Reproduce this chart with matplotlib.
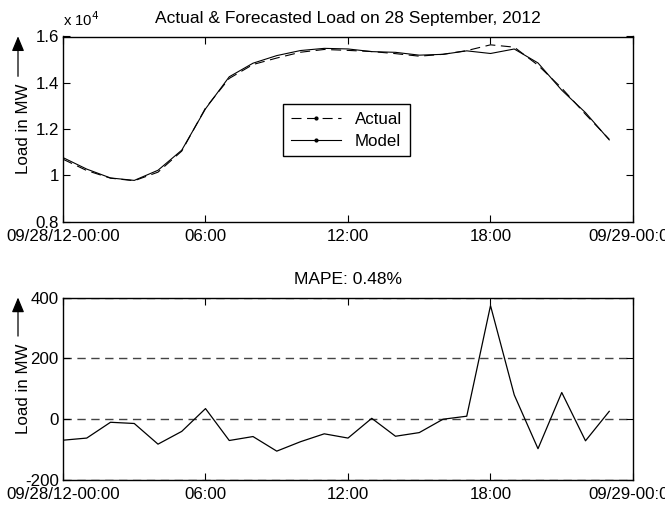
import matplotlib
matplotlib.use("Agg")
import matplotlib.pyplot as plt
from matplotlib.lines import Line2D
from matplotlib.patches import FancyArrowPatch

plt.rcParams['font.family'] = ['Liberation Sans', 'DejaVu Sans']

# ---- data ----
hours = list(range(24))
actual = [10700, 10210, 9880, 9770, 10140, 11050, 12910, 14190, 14790, 15070, 15320, 15440,
          15400, 15350, 15260, 15150, 15230, 15390, 15640, 15540, 14760, 13770, 12640, 11560]
model = [10769, 10272, 9890, 9784, 10222, 11090, 12875, 14260, 14847, 15175, 15394, 15488,
         15462, 15347, 15316, 15194, 15230, 15380, 15266, 15460, 14857, 13682, 12711, 11534]
error = [-69, -62, -10, -14, -82, -40, 35, -70, -57, -105, -74, -48,
         -62, 3, -56, -44, 0, 10, 374, 80, -97, 88, -71, 26]
xtick_pos = [0, 6, 12, 18, 24]
xtick_labels = ['09/28/12-00:00', '06:00', '12:00', '18:00', '09/29-00:00']
top_yticks = [8000, 10000, 12000, 14000, 16000]
top_ylabels = ['0.8', '1', '1.2', '1.4', '1.6']
bot_yticks = [-200, 0, 200, 400]
bot_ylabels = ['-200', '0', '200', '400']
title_top = 'Actual & Forecasted Load on 28 September, 2012'
title_bot = 'MAPE: 0.48%'

W, H = 665, 508
fig = plt.figure(figsize=(W / 100, H / 100), dpi=100)
FS = 12.2
TFS = 12.5

def px_axes(l, t, r, b):
    return fig.add_axes([l / W, 1 - b / H, (r - l) / W, (b - t) / H])

ax1 = px_axes(63, 36.5, 633, 221.7)
ax2 = px_axes(63, 297.7, 633, 480)

for ax in (ax1, ax2):
    ax.set_xlim(0, 24)
    ax.set_xticks(xtick_pos)
    ax.set_xticklabels(xtick_labels, fontsize=FS)
    ax.tick_params(direction='in', length=5, width=0.8, top=True, right=True,
                   labelsize=FS)
    ax.tick_params(axis='x', pad=5)
    ax.tick_params(axis='y', pad=3)
    for s in ax.spines.values():
        s.set_linewidth(1.0)
        s.set_color('black')

# top plot
ax1.plot(hours, actual, color='black', lw=0.8, ls=(0, (9, 5)))
ax1.plot(hours, model, color='black', lw=0.8, ls='-')
ax1.set_ylim(8000, 16000)
ax1.set_yticks(top_yticks)
ax1.set_yticklabels(top_ylabels)
ax1.set_title(title_top, fontsize=TFS, pad=10)
ax1.text(0.0, 1.04, r'x 10$^4$', transform=ax1.transAxes, fontsize=FS - 1.5,
         ha='left', va='bottom')
handles = [Line2D([], [], color='black', lw=0.8, ls=(0, (9, 5)), marker='.', markersize=4),
           Line2D([], [], color='black', lw=0.8, ls='-', marker='.', markersize=4)]
leg = ax1.legend(handles, ['Actual', 'Model'], loc='upper left',
                 bbox_to_anchor=((283 - 63) / 570, (221.7 - 104.3) / 185.2),
                 fontsize=FS, fancybox=False, framealpha=1, edgecolor='black',
                 handlelength=3.0, borderpad=0.45, labelspacing=0.4, numpoints=1,
                 handletextpad=0.8, borderaxespad=0)
leg.get_frame().set_linewidth(1.0)

# bottom plot
ax2.plot(hours, error, color='black', lw=0.9)
ax2.set_ylim(-200, 400)
ax2.set_yticks(bot_yticks)
ax2.set_yticklabels(bot_ylabels)
ax2.set_title(title_bot, fontsize=TFS, pad=10)
ax2.yaxis.grid(True, ls=(0, (6, 4)), color='#444444', lw=1.0)
ax2.set_axisbelow(True)

# y labels with arrows
for (t, b) in ((36.5, 221.7), (297.7, 480)):
    c = (t + b) / 2
    fig.text(24 / W, 1 - c / H, 'Load in MW', rotation=90, ha='center', va='center',
             fontsize=FS)
    fig.add_artist(FancyArrowPatch(
        (18 / W, 1 - (c - 50) / H), (18 / W, 1 - (t - 3) / H),
        transform=fig.transFigure, arrowstyle='-|>,head_length=6,head_width=2.5',
        color='black', lw=0.9, mutation_scale=1.5))

fig.savefig('out.png', dpi=100)
